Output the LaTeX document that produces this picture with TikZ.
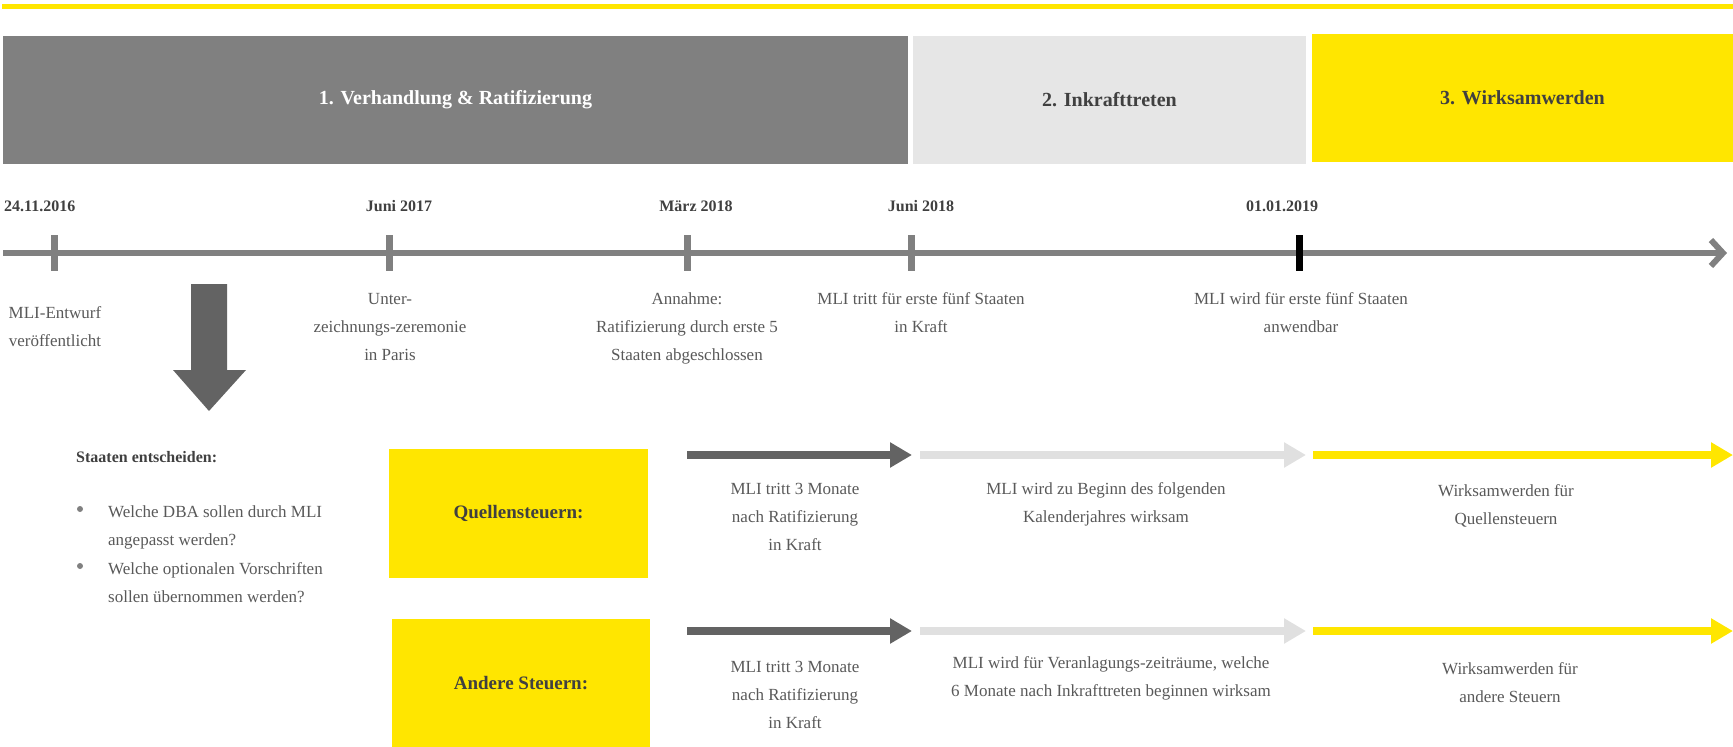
\documentclass[tikz,border=0pt]{standalone}
\usepackage{fontspec}
\setmainfont{Liberation Serif}
\usetikzlibrary{arrows.meta}

\definecolor{mligray}{HTML}{808080}
\definecolor{mlilight}{HTML}{E6E6E6}
\definecolor{mliyellow}{HTML}{FFE600}
\definecolor{mlidark}{HTML}{636363}
\definecolor{arrlight}{HTML}{E0E0E0}
\definecolor{txtgray}{HTML}{595959}
\definecolor{txtdark}{HTML}{404040}

\tikzset{
  phase/.style={inner sep=0pt, minimum height=128pt, font=\fontsize{20}{24}\selectfont\bfseries},
  datelbl/.style={anchor=base, inner sep=0pt, text=txtdark, font=\fontsize{16}{19}\selectfont\bfseries},
  evlbl/.style={anchor=base, align=center, inner sep=0pt, text=txtgray, font=\fontsize{17}{28}\selectfont},
  taxbox/.style={fill=mliyellow, minimum width=259pt, minimum height=129pt, inner sep=0pt, text=txtdark, font=\fontsize{19}{23}\selectfont\bfseries},
  tickmark/.style={line width=7pt, mligray},
  bulletdot/.style={circle, fill=mligray, inner sep=0pt, minimum size=6pt},
  rowarrow/.style={line width=8pt, -{Triangle[length=22pt,width=24pt]}},
}

\begin{document}
\begin{tikzpicture}[x=1pt,y=-1pt]
  \useasboundingbox (0,0) rectangle (1733,747);

  % top line and phases
  \coordinate (Y0) at (2,6);
  \coordinate (Y1) at (1733,6);
  \draw[line width=5pt, mliyellow] (Y0) -- (Y1);

  \node[phase, fill=mligray, minimum width=905pt, text=white] (P1) at (455.5,100) {1. Verhandlung \& Ratifizierung};
  \node[phase, fill=mlilight, minimum width=393pt, text=txtdark] (P2) at (1109.5,100) {2. Inkrafttreten};
  \node[phase, fill=mliyellow, minimum width=421pt, text=txtdark] (P3) at (1522.5,97.5) {3. Wirksamwerden};

  % timeline
  \coordinate (TL0) at (3,253);
  \coordinate (TL1) at (1727,253);
  \draw[line width=6pt, mligray, -{Straight Barb[length=12pt,width=26pt]}] (TL0) -- (TL1);

  \coordinate (T1) at (54,253);
  \coordinate (T2) at (389,253);
  \coordinate (T3) at (687,253);
  \coordinate (T4) at (911,253);
  \coordinate (T5) at (1299,253);
  \foreach \t in {T1,T2,T3,T4}
    \draw[tickmark] ([yshift=18pt]\t) -- ([yshift=-18pt]\t);
  \draw[tickmark, black] ([yshift=18pt]T5) -- ([yshift=-18pt]T5);

  \node[datelbl, anchor=base west] (D1) at (4,211) {24.11.2016};
  \node[datelbl] (D2) at (399,211) {Juni 2017};
  \node[datelbl] (D3) at (696,211) {März 2018};
  \node[datelbl] (D4) at (921,211) {Juni 2018};
  \node[datelbl] (D5) at (1282,211) {01.01.2019};

  % event labels (y = baseline of last line)
  \node[evlbl] (E1) at (55,346) {MLI-Entwurf\\veröffentlicht};
  \node[evlbl] (E2) at (390,360) {Unter-\\zeichnungs-zeremonie\\in Paris};
  \node[evlbl] (E3) at (687,360) {Annahme:\\Ratifizierung durch erste 5\\Staaten abgeschlossen};
  \node[evlbl] (E4) at (921,332) {MLI tritt für erste fünf Staaten\\in Kraft};
  \node[evlbl] (E5) at (1301,332) {MLI wird für erste fünf Staaten\\anwendbar};

  % big arrow down
  \fill[mlidark] (191,284) -- (227,284) -- (227,370) -- (246,370) -- (209,411) -- (173,370) -- (191,370) -- cycle;

  % decisions
  \node[datelbl, anchor=base west] (S) at (76,462) {Staaten entscheiden:};
  \node[bulletdot] (B1) at (80,509) {};
  \node[bulletdot] (B2) at (80,566) {};
  \node[evlbl, anchor=base west, align=left] (L1) at (108,545) {Welche DBA sollen durch MLI\\angepasst werden?};
  \node[evlbl, anchor=base west, align=left] (L2) at (108,602) {Welche optionalen Vorschriften\\sollen übernommen werden?};

  % tax rows
  \node[taxbox] (Q) at (518.5,513.5) {Quellensteuern:};
  \node[taxbox, minimum width=258pt, minimum height=128pt] (A) at (521,683) {Andere Steuern:};

  \coordinate (Q0) at (687,455);
  \coordinate (Q1) at (912,455);
  \coordinate (Q2) at (920,455);
  \coordinate (Q3) at (1306,455);
  \coordinate (Q4) at (1313,455);
  \coordinate (Q5) at (1733,455);
  \draw[rowarrow, mlidark] (Q0) -- (Q1);
  \draw[rowarrow, arrlight] (Q2) -- (Q3);
  \draw[rowarrow, mliyellow] (Q4) -- (Q5);

  \coordinate (A0) at (687,631);
  \coordinate (A1) at (912,631);
  \coordinate (A2) at (920,631);
  \coordinate (A3) at (1306,631);
  \coordinate (A4) at (1313,631);
  \coordinate (A5) at (1733,631);
  \draw[rowarrow, mlidark] (A0) -- (A1);
  \draw[rowarrow, arrlight] (A2) -- (A3);
  \draw[rowarrow, mliyellow] (A4) -- (A5);

  \node[evlbl] (QL1) at (795,550) {MLI tritt 3 Monate\\nach Ratifizierung\\in Kraft};
  \node[evlbl] (QL2) at (1106,522) {MLI wird zu Beginn des folgenden\\Kalenderjahres wirksam};
  \node[evlbl] (QL3) at (1506,524) {Wirksamwerden für\\Quellensteuern};

  \node[evlbl] (AL1) at (795,728) {MLI tritt 3 Monate\\nach Ratifizierung\\in Kraft};
  \node[evlbl] (AL2) at (1111,696) {MLI wird für Veranlagungs-zeiträume, welche\\6 Monate nach Inkrafttreten beginnen wirksam};
  \node[evlbl] (AL3) at (1510,702) {Wirksamwerden für\\andere Steuern};
\end{tikzpicture}
\end{document}
